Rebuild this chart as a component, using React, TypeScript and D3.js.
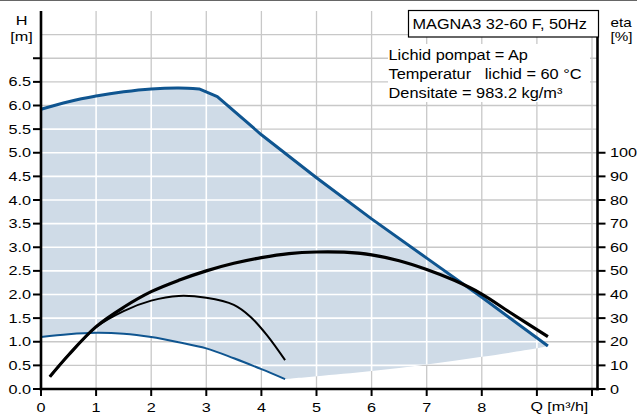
import * as d3 from "d3";

// pump curves (Q in m³/h, H in m, eta in %)
const MAX_Q = [0, 0.5, 1, 1.5, 2, 2.5, 2.87, 3.2, 4, 5, 6, 7, 8, 9.2];
const MAX_H = [5.92, 6.08, 6.2, 6.29, 6.35, 6.37, 6.35, 6.19, 5.38, 4.47, 3.6, 2.77, 1.94, 0.91];
const MAX_SMOOTH_END = 6; // index of the knee: smooth before, straight after

const MIN_Q = [0, 0.5, 1, 1.5, 2, 2.5, 3, 3.5, 4, 4.43];
const MIN_H = [1.1, 1.16, 1.19, 1.17, 1.1, 0.99, 0.86, 0.65, 0.42, 0.21];

// lower edge of the shaded operating area
const EDGE_Q = [9.2, 9, 8, 7, 6, 5, 4.43];
const EDGE_H = [0.91, 0.86, 0.68, 0.52, 0.38, 0.27, 0.21];

const ETA_MAX_Q = [0.16, 0.5, 1, 1.5, 2, 2.5, 3, 3.5, 4, 4.5, 5, 5.5, 6, 6.5, 7, 7.5, 8, 8.5, 9.2];
const ETA_MAX = [5.2, 14.4, 26.4, 34.6, 41.2, 46, 50, 53.2, 55.6, 57.3, 58, 57.9, 56.8, 54.3, 50.6, 46, 40.2, 32.6, 22.2];

const ETA_MIN_Q = [0.16, 0.5, 1, 1.5, 2, 2.5, 3, 3.5, 3.8, 4.1, 4.43];
const ETA_MIN = [5.2, 14.4, 26.2, 33, 37.4, 39.4, 38.6, 35.6, 30.6, 22.8, 12.2];

const Q_TICKS = [0, 1, 2, 3, 4, 5, 6, 7, 8, 9, 10];
const Q_LABELS = ["0", "1", "2", "3", "4", "5", "6", "7", "8"];
const H_TICKS = [0, 0.5, 1, 1.5, 2, 2.5, 3, 3.5, 4, 4.5, 5, 5.5, 6, 6.5, 7];
const H_LABELS = ["0.0", "0.5", "1.0", "1.5", "2.0", "2.5", "3.0", "3.5", "4.0", "4.5", "5.0", "5.5", "6.0", "6.5"];
const H_GRID = [0.5, 1, 1.5, 2, 2.5, 3, 3.5, 4, 4.5, 5, 5.5, 6, 6.5, 7, 7.5];
const ETA_TICKS = [0, 10, 20, 30, 40, 50, 60, 70, 80, 90, 100];

const TITLE = "MAGNA3 32-60 F, 50Hz";
const INFO = ["Lichid pompat = Ap", "Temperatur   lichid = 60 °C", "Densitate = 983.2 kg/m³"];

const W = 637;
const H = 416;
const ML = 41;
const MR = 597.5;
const MT = 11;
const MB = 389;

const BLUE = "#0f5590";
const SHADE = "#cfdbe7";
const GRID = "#c8c8c8";
const FONT = "'Liberation Sans', Arial, sans-serif";

function SText({ x, y, size, sx, anchor = "start", children }: any) {
  return (
    <text
      transform={`translate(${x},${y}) scale(${sx},1)`}
      fontSize={size}
      textAnchor={anchor}
      style={{ whiteSpace: "pre" }}
    >
      {children}
    </text>
  );
}

export default function App() {
  const x = d3.scaleLinear().domain([0, 10.1]).range([ML, MR]);
  const y = d3.scaleLinear().domain([0, 8]).range([MB, MT]);
  const yEta = d3.scaleLinear().domain([0, 160]).range([MB, MT]);

  const smoothH = d3
    .line<[number, number]>()
    .x((d) => x(d[0]))
    .y((d) => y(d[1]))
    .curve(d3.curveCatmullRom.alpha(0.5));
  const straightH = d3
    .line<[number, number]>()
    .x((d) => x(d[0]))
    .y((d) => y(d[1]));
  const smoothEta = d3
    .line<[number, number]>()
    .x((d) => x(d[0]))
    .y((d) => yEta(d[1]))
    .curve(d3.curveCatmullRom.alpha(0.5));

  const maxPts = MAX_Q.map((q, i) => [q, MAX_H[i]] as [number, number]);
  const minPts = MIN_Q.map((q, i) => [q, MIN_H[i]] as [number, number]);
  const edgePts = EDGE_Q.map((q, i) => [q, EDGE_H[i]] as [number, number]);
  const etaMaxPts = ETA_MAX_Q.map((q, i) => [q, ETA_MAX[i]] as [number, number]);
  const etaMinPts = ETA_MIN_Q.map((q, i) => [q, ETA_MIN[i]] as [number, number]);

  const maxPath =
    smoothH(maxPts.slice(0, MAX_SMOOTH_END + 1))! +
    straightH(maxPts.slice(MAX_SMOOTH_END))!.replace(/^M/, "L");

  // closed outline of the operating area
  const shadePath =
    maxPath +
    smoothH(edgePts)!.replace(/^M/, "L") +
    smoothH([...minPts].reverse())!.replace(/^M/, "L") +
    "Z";

  const gridLines = (stroke: string, sw: number) => (
    <g stroke={stroke} strokeWidth={sw}>
      {Q_TICKS.slice(1).map((q) => (
        <line key={`v${q}`} x1={x(q)} x2={x(q)} y1={MT} y2={MB} />
      ))}
      {H_GRID.map((h) => (
        <line key={`h${h}`} x1={ML} x2={MR} y1={y(h)} y2={y(h)} />
      ))}
    </g>
  );

  return (
    <svg
      width={W}
      height={H}
      viewBox={`0 0 ${W} ${H}`}
      style={{ position: "absolute", left: 0, top: 0, fontFamily: FONT }}
    >
      <defs>
        <clipPath id="shadeClip">
          <path d={shadePath} />
        </clipPath>
      </defs>
      <rect width={W} height={H} fill="#fff" />
      <line x1={0} x2={W} y1={0.5} y2={0.5} stroke="#666" strokeWidth={1.2} />

      {gridLines(GRID, 1.3)}
      <path d={shadePath} fill={SHADE} />
      <g clipPath="url(#shadeClip)">{gridLines("#fff", 1.6)}</g>

      {/* white panel behind the fluid info */}
      <rect x={388} y={44} width={202} height={58} fill="#fff" />

      {/* curves */}
      <path d={smoothH(minPts)!} fill="none" stroke={BLUE} strokeWidth={2} />
      <path d={maxPath} fill="none" stroke={BLUE} strokeWidth={3} strokeLinejoin="round" />
      <path d={smoothEta(etaMinPts)!} fill="none" stroke="#000" strokeWidth={2} />
      <path d={smoothEta(etaMaxPts)!} fill="none" stroke="#000" strokeWidth={3.2} />

      {/* axes */}
      <g stroke="#000">
        <line x1={ML} x2={ML} y1={MT} y2={MB + 1.2} strokeWidth={2.6} />
        <line x1={MR} x2={MR} y1={MT} y2={MB + 1.2} strokeWidth={2.6} />
        <line x1={ML - 1.3} x2={MR + 1.3} y1={MB} y2={MB} strokeWidth={2.6} />
        {H_TICKS.map((h) => (
          <line key={`lt${h}`} x1={ML - 8} x2={ML} y1={y(h)} y2={y(h)} strokeWidth={2} />
        ))}
        {ETA_TICKS.map((e) => (
          <line key={`rt${e}`} x1={MR} x2={MR + 8} y1={yEta(e)} y2={yEta(e)} strokeWidth={2} />
        ))}
        {Q_TICKS.map((q) => (
          <line key={`bt${q}`} x1={x(q)} x2={x(q)} y1={MB} y2={MB + 7} strokeWidth={2} />
        ))}
      </g>

      <g fill="#000">
        {H_LABELS.map((l, i) => (
          <SText key={l} x={31} y={y(H_TICKS[i]) + 4.5} size={12.5} sx={1.3} anchor="end">
            {l}
          </SText>
        ))}
        {ETA_TICKS.map((e) => (
          <SText key={e} x={610} y={yEta(e) + 4.5} size={12.5} sx={1.3}>
            {String(e)}
          </SText>
        ))}
        {Q_LABELS.map((l, i) => (
          <SText key={l} x={x(Q_TICKS[i])} y={411.5} size={12.5} sx={1.3} anchor="middle">
            {l}
          </SText>
        ))}
        <SText x={530.5} y={410.5} size={12.5} sx={1.28}>
          Q [m³/h]
        </SText>

        <SText x={21.5} y={24.5} size={13} sx={1.25} anchor="middle">
          H
        </SText>
        <SText x={21.5} y={40.5} size={13} sx={1.25} anchor="middle">
          [m]
        </SText>
        <SText x={610.5} y={26.5} size={12.5} sx={1.22}>
          eta
        </SText>
        <SText x={610.5} y={40.5} size={12.5} sx={1.22}>
          [%]
        </SText>
      </g>

      {/* title box */}
      <rect x={408.5} y={10.5} width={190} height={26.5} fill="#fff" stroke="#000" strokeWidth={1.2} />
      <SText x={412.5} y={28.7} size={15} sx={1.085}>
        {TITLE}
      </SText>
      {INFO.map((t, i) => (
        <SText key={t} x={388.5} y={59.8 + i * 19} size={15} sx={1.09}>
          {t}
        </SText>
      ))}
    </svg>
  );
}
